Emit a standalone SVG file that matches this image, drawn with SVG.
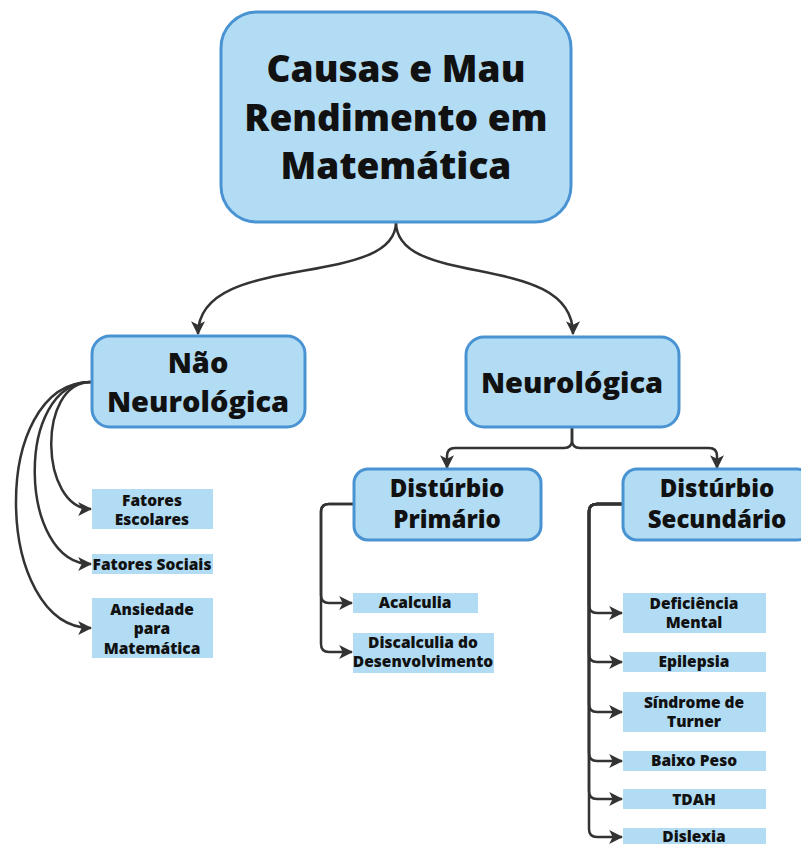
<svg xmlns="http://www.w3.org/2000/svg" width="801" height="844" viewBox="0 0 801 844">
<defs>
<marker id="ah" viewBox="0 0 12 12" refX="11" refY="6" markerWidth="14" markerHeight="14" markerUnits="userSpaceOnUse" orient="auto">
<path d="M0,0 L12,6 L0,12 L3,6 Z" fill="#333"/>
</marker>
<style>
.main{fill:#b1dcf4;stroke:#4a93d3;stroke-width:3}
.leaf{fill:#b1dcf4}
.t{font-family:"Open Sans","Noto Sans",sans-serif;font-weight:800;fill:#111;text-anchor:middle}
.t1{font-size:37px}
.t2{font-size:29px}
.t3{font-size:24px}
.t4{font-size:15.5px}
.c{fill:none;stroke:#333;stroke-width:2.5;marker-end:url(#ah)}
</style>
</defs>
<rect width="801" height="844" fill="#fff"/>

<g id="connectors">
<path class="c" d="M396,222 C396,290 198,250 198,334"/>
<path class="c" d="M396,222 C396,290 573,250 573,334"/>
<path class="c" d="M572,427 V440 Q572,448 564,448 H455 Q447,448 447,456 V468"/>
<path class="c" d="M572,427 V440 Q572,448 580,448 H709 Q717,448 717,456 V468"/>
<path class="c" d="M91,382 C36,382 40,509 91,509"/>
<path class="c" d="M91,382 C14,382 18,564 91,564"/>
<path class="c" d="M91,382 C-12,382 -6,628 91,628"/>
<path class="c" d="M354,504 H329 Q321,504 321,512 V595 Q321,603 329,603 H352"/>
<path class="c" d="M354,504 H329 Q321,504 321,512 V644 Q321,652 329,652 H352"/>
<path class="c" d="M623,504 H597 Q589,504 589,512 V605 Q589,613 597,613 H622"/>
<path class="c" d="M623,504 H597 Q589,504 589,512 V654 Q589,662 597,662 H622"/>
<path class="c" d="M623,504 H597 Q589,504 589,512 V704 Q589,712 597,712 H622"/>
<path class="c" d="M623,504 H597 Q589,504 589,512 V753 Q589,761 597,761 H622"/>
<path class="c" d="M623,504 H597 Q589,504 589,512 V791 Q589,799 597,799 H622"/>
<path class="c" d="M623,504 H597 Q589,504 589,512 V829 Q589,837 597,837 H622"/>
</g>

<g id="n-main">
<rect class="main" x="221" y="12" width="350" height="210" rx="36"/>
<text class="t t1" x="396" y="82">Causas e Mau</text>
<text class="t t1" x="396" y="131">Rendimento em</text>
<text class="t t1" x="396" y="179">Matemática</text>
</g>
<g id="n-nao">
<rect class="main" x="92" y="336" width="213" height="91" rx="18"/>
<text class="t t2" x="198" y="373">Não</text>
<text class="t t2" x="198" y="412">Neurológica</text>
</g>
<g id="n-neuro">
<rect class="main" x="466" y="337" width="213" height="90" rx="18"/>
<text class="t t2" x="572" y="393">Neurológica</text>
</g>
<g id="n-prim">
<rect class="main" x="354" y="469" width="187" height="71" rx="14"/>
<text class="t t3" x="447" y="497">Distúrbio</text>
<text class="t t3" x="447" y="528">Primário</text>
</g>
<g id="n-sec">
<rect class="main" x="623" y="469" width="188" height="71" rx="14"/>
<text class="t t3" x="717" y="497">Distúrbio</text>
<text class="t t3" x="717" y="528">Secundário</text>
</g>

<g id="l-escolares">
<rect class="leaf" x="92" y="489" width="121" height="40"/>
<text class="t t4" x="152" y="506">Fatores</text>
<text class="t t4" x="152" y="525">Escolares</text>
</g>
<g id="l-sociais">
<rect class="leaf" x="92" y="554" width="121" height="20"/>
<text class="t t4" x="152" y="570">Fatores Sociais</text>
</g>
<g id="l-ansiedade">
<rect class="leaf" x="92" y="598" width="121" height="60"/>
<text class="t t4" x="152" y="615">Ansiedade</text>
<text class="t t4" x="152" y="634">para</text>
<text class="t t4" x="152" y="654">Matemática</text>
</g>
<g id="l-acalculia">
<rect class="leaf" x="353" y="593" width="125" height="20"/>
<text class="t t4" x="415" y="608">Acalculia</text>
</g>
<g id="l-discalculia">
<rect class="leaf" x="353" y="633" width="141" height="40"/>
<text class="t t4" x="423" y="648">Discalculia do</text>
<text class="t t4" x="423" y="667">Desenvolvimento</text>
</g>
<g id="l-deficiencia">
<rect class="leaf" x="623" y="593" width="143" height="40"/>
<text class="t t4" x="694" y="609">Deficiência</text>
<text class="t t4" x="694" y="628">Mental</text>
</g>
<g id="l-epilepsia">
<rect class="leaf" x="623" y="652" width="143" height="20"/>
<text class="t t4" x="694" y="667">Epilepsia</text>
</g>
<g id="l-turner">
<rect class="leaf" x="623" y="692" width="143" height="40"/>
<text class="t t4" x="694" y="708">Síndrome de</text>
<text class="t t4" x="694" y="727">Turner</text>
</g>
<g id="l-baixo">
<rect class="leaf" x="623" y="751" width="143" height="20"/>
<text class="t t4" x="694" y="766">Baixo Peso</text>
</g>
<g id="l-tdah">
<rect class="leaf" x="623" y="789" width="143" height="20"/>
<text class="t t4" x="694" y="805">TDAH</text>
</g>
<g id="l-dislexia">
<rect class="leaf" x="623" y="828" width="143" height="20"/>
<text class="t t4" x="694" y="842">Dislexia</text>
</g>
</svg>
